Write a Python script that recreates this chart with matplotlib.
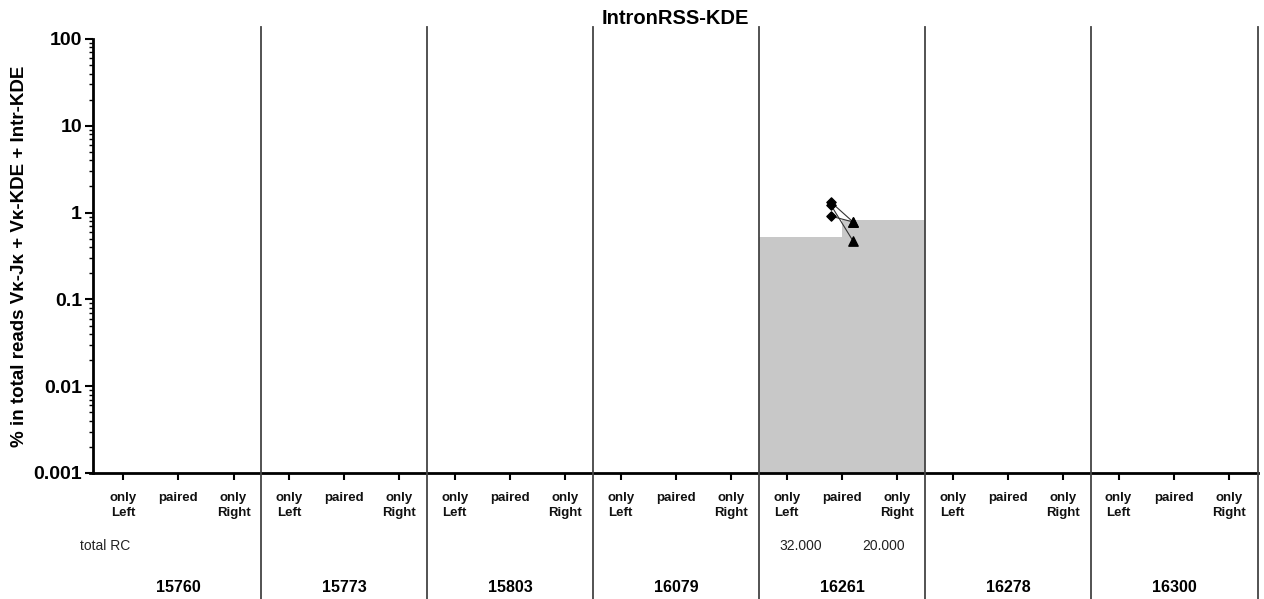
import numpy as np
import matplotlib
matplotlib.use("Agg")
import matplotlib.pyplot as plt
from matplotlib.lines import Line2D
import matplotlib.transforms as mtransforms
from matplotlib.ticker import LogLocator, FixedLocator, NullFormatter

plt.rcParams['font.family'] = ['Liberation Sans', 'DejaVu Sans']

# ---- data ----
groups = ['15760', '15773', '15803', '16079', '16261', '16278', '16300']
categories = ['only\nLeft', 'paired', 'only\nRight']
only_left_bar = [np.nan, np.nan, np.nan, np.nan, 0.52, np.nan, np.nan]
only_right_bar = [np.nan, np.nan, np.nan, np.nan, 0.82, np.nan, np.nan]
paired_group = 4
paired_left = [1.32, 1.22, 0.91]    # diamonds
paired_right = [0.78, 0.47, 0.78]   # triangles
total_rc_left = ['', '', '', '', '32.000', '', '']
total_rc_right = ['', '', '', '', '20.000', '', '']
y_ticks = [0.001, 0.01, 0.1, 1, 10, 100]
y_ticklabels = ['0.001', '0.01', '0.1', '1', '10', '100']

W, H = 1264, 599
fig = plt.figure(figsize=(W / 100, H / 100), dpi=100)
ax = fig.add_axes([93 / W, 1 - 473 / H, (1258 - 93) / W, (473 - 39) / H])

ng = len(groups)
nc = len(categories)
xpos = np.arange(ng * nc)

# bars
bar_c = '#c8c8c8'
for g in range(ng):
    if not np.isnan(only_left_bar[g]):
        ax.bar(g * nc - 0.5, only_left_bar[g], width=1.5, align='edge', color=bar_c, edgecolor='none', zorder=1)
    if not np.isnan(only_right_bar[g]):
        ax.bar(g * nc + 1, only_right_bar[g], width=1.5, align='edge', color=bar_c, edgecolor='none', zorder=1)

# paired points
xc = paired_group * nc + 1
for l, r in zip(paired_left, paired_right):
    ax.plot([xc - 0.2, xc + 0.2], [l, r], color='#333333', lw=0.8, zorder=3)
ax.scatter([xc - 0.2] * len(paired_left), paired_left, marker='D', s=22, color='black', zorder=4)
ax.scatter([xc + 0.2] * len(paired_right), paired_right, marker='^', s=45, color='black', zorder=4)

ax.set_yscale('log')
ax.set_ylim(0.001, 100)
ax.set_xlim(-0.54, ng * nc - 0.48)

ax.yaxis.set_major_locator(FixedLocator(y_ticks))
ax.set_yticklabels(y_ticklabels, fontsize=14, fontweight='bold')
ax.yaxis.set_minor_locator(LogLocator(base=10, subs=np.arange(2, 10)))
ax.yaxis.set_minor_formatter(NullFormatter())
ax.tick_params(axis='y', which='major', length=6, width=1.5, direction='out', pad=2)
ax.tick_params(axis='y', which='minor', length=3, width=1.0, direction='out')

ax.set_xticks(xpos)
ax.set_xticklabels(categories * ng, fontsize=9.5, fontweight='bold', color='#111111', linespacing=1.25)
ax.tick_params(axis='x', which='major', length=5, width=1.5, direction='out', pad=9)

for s in ['top', 'right']:
    ax.spines[s].set_visible(False)
ax.spines['left'].set_linewidth(2)
ax.spines['bottom'].set_linewidth(2)
ax.spines['bottom'].set_bounds(-0.6, ng * nc - 0.48)

ax.set_ylabel('% in total reads V\u03ba-J\u03ba + V\u03ba-KDE + Intr-KDE', fontsize=13.5, fontweight='bold', labelpad=4)

# separators between groups, extending above and below the axes
trans = mtransforms.blended_transform_factory(ax.transData, fig.transFigure)
for g in range(1, ng + 1):
    xs = g * nc - 0.5 if g < ng else ng * nc - 0.48
    fig.add_artist(Line2D([xs, xs], [1 - 27 / H, 0], transform=trans, color='#444444', lw=1.3, zorder=3))

# title
fig.text(0.5 * (93 + 1258) / W, 1 - 19 / H, 'IntronRSS-KDE', ha='center', va='center', fontsize=14.5, fontweight='bold')

# total RC row
fig.text(80 / W, 1 - 546 / H, 'total RC', ha='left', va='center', fontsize=10, color='#222222')
for g in range(ng):
    if total_rc_left[g]:
        t = fig.text(0, 1 - 546 / H, total_rc_left[g], transform=trans, ha='center', va='center', fontsize=10, color='#222222')
        t.set_x(g * nc + 0.25)
    if total_rc_right[g]:
        t = fig.text(0, 1 - 546 / H, total_rc_right[g], transform=trans, ha='center', va='center', fontsize=10, color='#222222')
        t.set_x(g * nc + 1.75)

# group labels
for g, name in enumerate(groups):
    t = fig.text(0, 1 - 587 / H, name, transform=trans, ha='center', va='center', fontsize=11.5, fontweight='bold')
    t.set_x(g * nc + 1)

fig.savefig('out.png', dpi=100)
